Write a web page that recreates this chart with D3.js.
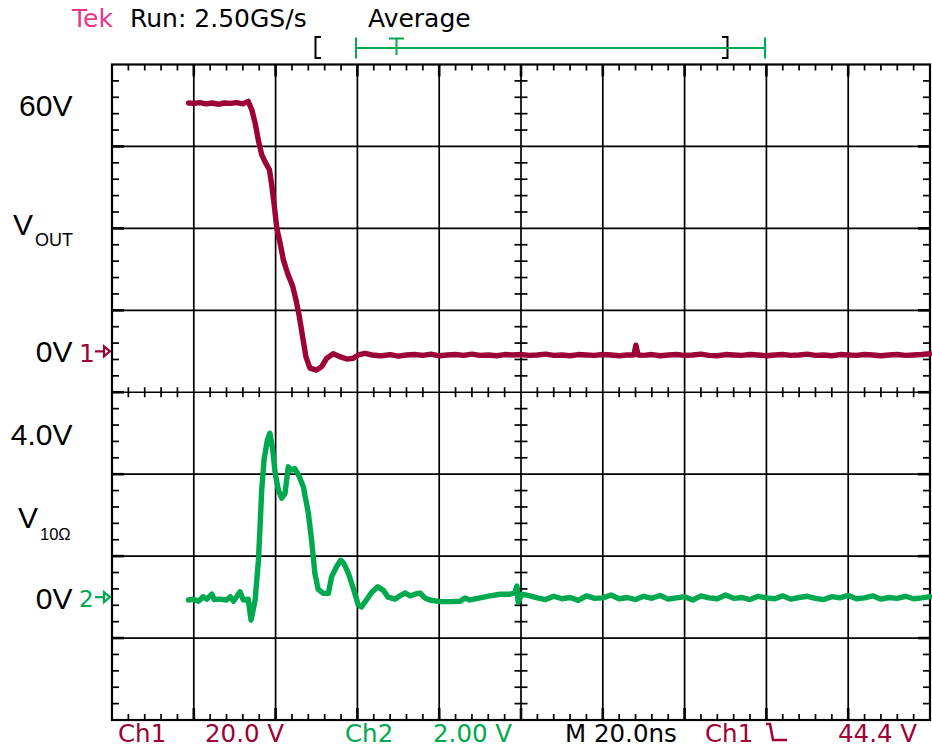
<!DOCTYPE html>
<html><head><meta charset="utf-8">
<script src="https://cdn.jsdelivr.net/npm/d3@7"></script>
<style>html,body{margin:0;padding:0;background:#fff;}svg{display:block;}</style>
</head><body>
<script>
// ---- data (time in ns from left edge of screen, volts) ----
const ch1Time = [18.7,20,21.5,23,24.5,26,27.5,29,30.5,32,33.3,34.2,35.0,35.8,36.6,37.4,38.5,39.0,39.6,40.3,41.1,41.9,42.9,44.2,45.0,45.8,46.6,47.4,48.4,50.0,51.3,52.5,54.1,55.7,57.4,59.0,60.2,61.9,63.5,65.5,
  66,68,70,72,74,76,78,80,82,84,86,88,90,92,94,96,98,100,102,104,106,108,110,112,114,116,118,120,122,124,126,127.6,128.1,128.6,130,132,134,136,138,140,142,144,146,148,150,152,154,156,158,160,162,164,166,168,170,172,174,176,178,180,182,184,186,188,190,192,194,196,198,200];
const ch1Volts = [60.6,60.5,60.7,60.4,60.6,60.3,60.6,60.5,60.7,60.4,61.0,58.9,55.7,51.4,48.0,46.3,44.3,41.0,36.2,30.0,26.4,22.3,19.1,15.8,12.5,8.5,3.6,-1.3,-4.1,-4.6,-3.7,-1.7,-0.6,-1.3,-1.9,-1.7,-0.9,-0.5,-0.9,-1.1,
  -1.1,-0.8,-1.2,-0.9,-0.8,-1.0,-0.7,-1.1,-0.9,-0.8,-1.0,-0.7,-1.0,-0.9,-1.1,-0.8,-0.9,-0.8,-1.0,-0.9,-0.7,-1.0,-0.9,-1.1,-0.8,-0.9,-1.0,-0.8,-0.9,-1.1,-0.9,-0.9,1.5,-0.9,-1.0,-0.8,-1.1,-0.9,-0.8,-1.0,-0.9,-0.7,-1.0,-1.1,-0.8,-0.9,-1.0,-0.8,-0.9,-1.1,-0.9,-0.8,-1.0,-0.9,-0.7,-1.0,-0.9,-1.1,-0.8,-0.9,-1.0,-0.8,-0.9,-1.1,-0.9,-0.8,-1.0,-0.9,-0.8,-0.6];

const ch2Time = [18.7,19.9,21.1,22.3,23.2,24.4,25.0,26.4,28.0,28.9,29.7,31.3,32.1,33.3,34.0,35.0,35.8,36.2,36.6,37.2,38.0,38.6,39.3,39.9,40.7,41.5,42.3,43.1,43.9,44.7,45.8,46.8,48.0,48.8,49.6,50.4,51.7,52.9,53.7,54.9,55.9,56.7,57.8,59.0,60.2,61.0,62.2,63.5,65.0,66.3,67.5,69.2,70.4,71.6,72.9,74.1,75.3,76.5,77.7,80.2,82.6,85.1,86.3,87.5,90.0,92.4,94.9,97.3,98.5,99.0,99.3,100.2,102.2,
  104,106,108,110,112,114,116,118,120,122,124,126,128,130,132,134,136,138,140,142,144,146,148,150,152,154,156,158,160,162,164,166,168,170,172,174,176,178,180,182,184,186,188,190,192,194,196,198,200];
const ch2Volts = [-0.07,-0.05,-0.10,0.01,-0.05,0.07,-0.06,-0.05,-0.07,0.01,-0.10,0.13,-0.07,-0.05,-0.56,-0.07,0.90,1.72,2.61,3.37,3.84,4.00,3.59,3.02,2.61,2.41,2.53,3.18,3.10,3.14,2.94,2.69,2.05,1.39,0.58,0.19,0.09,0.09,0.50,0.74,0.90,0.82,0.58,0.21,-0.19,-0.24,-0.07,0.12,0.25,0.17,0.00,-0.05,0.03,0.10,0.03,0.07,0.10,-0.02,-0.07,-0.11,-0.11,-0.10,-0.02,-0.07,-0.02,0.03,0.07,0.07,0.10,0.27,-0.12,0.07,0.03,
  -0.02,-0.06,0.02,-0.04,-0.01,-0.08,0.03,-0.03,-0.02,0.05,-0.04,-0.01,-0.06,0.02,-0.03,0.04,-0.05,-0.02,0.01,-0.07,0.03,-0.02,-0.04,0.05,-0.03,-0.01,-0.06,0.02,-0.02,-0.04,0.03,-0.05,-0.01,0.02,-0.03,-0.06,0.01,-0.02,0.04,-0.04,-0.02,0.03,-0.05,-0.01,-0.03,0.02,-0.04,-0.02,0.01];

const ch1Labels = ["60V", "0V"];
const ch1LabelVolts = [60, 0];
const ch2Labels = ["4.0V", "0V"];
const ch2LabelVolts = [4, 0];
const headerTexts = ["Tek", "Run: 2.50GS/s", "Average"];
const footerTexts = ["Ch1", "20.0 V", "Ch2", "2.00 V", "M 20.0ns", "Ch1", "44.4 V"];

// ---- drawing ----
const W = 932, H = 749;
const RED = "#9c0236", GREEN = "#00a84f", PINK = "#e8378b";
const svg = d3.select("body").append("svg").attr("width", W).attr("height", H);

const x = d3.scaleLinear().domain([0, 200]).range([112, 930]);
const gx = d3.scaleLinear().domain([0, 10]).range([112, 930]);
const gy = d3.scaleLinear().domain([0, 8]).range([64.5, 720]);
const y1 = d3.scaleLinear().domain([-90, 70]).range([720, 64.5]);
const y2 = d3.scaleLinear().domain([-3, 13]).range([720, 64.5]);

const grid = svg.append("g").attr("stroke", "#000");
d3.range(1, 10).forEach(i => grid.append("line").attr("x1", gx(i)).attr("x2", gx(i)).attr("y1", gy(0)).attr("y2", gy(8)).attr("stroke-width", 1.7));
d3.range(1, 8).forEach(j => grid.append("line").attr("y1", gy(j)).attr("y2", gy(j)).attr("x1", gx(0)).attr("x2", gx(10)).attr("stroke-width", 1.7));
d3.range(0, 51).filter(k => k % 5 !== 0).forEach(k => {
  const xx = gx(k / 5);
  grid.append("line").attr("x1", xx).attr("x2", xx).attr("y1", gy(0)).attr("y2", gy(0) + 6).attr("stroke-width", 1.7);
  grid.append("line").attr("x1", xx).attr("x2", xx).attr("y1", gy(8)).attr("y2", gy(8) - 6).attr("stroke-width", 1.7);
  grid.append("line").attr("x1", xx).attr("x2", xx).attr("y1", gy(4) - 5).attr("y2", gy(4) + 5).attr("stroke-width", 1.7);
});
d3.range(0, 41).filter(k => k % 5 !== 0).forEach(k => {
  const yy = gy(k / 5);
  grid.append("line").attr("y1", yy).attr("y2", yy).attr("x1", gx(0)).attr("x2", gx(0) + 7).attr("stroke-width", 1.7);
  grid.append("line").attr("y1", yy).attr("y2", yy).attr("x1", gx(10)).attr("x2", gx(10) - 7).attr("stroke-width", 1.7);
  grid.append("line").attr("y1", yy).attr("y2", yy).attr("x1", gx(5) - 6.5).attr("x2", gx(5) + 6.5).attr("stroke-width", 1.7);
});
d3.range(1, 8).forEach(j => {
  grid.append("line").attr("y1", gy(j)).attr("y2", gy(j)).attr("x1", gx(0)).attr("x2", gx(0) + 12).attr("stroke-width", 2.6);
  grid.append("line").attr("y1", gy(j)).attr("y2", gy(j)).attr("x1", gx(10)).attr("x2", gx(10) - 12).attr("stroke-width", 2.6);
});
d3.range(1, 10).forEach(i => {
  grid.append("line").attr("x1", gx(i)).attr("x2", gx(i)).attr("y1", gy(0)).attr("y2", gy(0) + 12).attr("stroke-width", 2.6);
  grid.append("line").attr("x1", gx(i)).attr("x2", gx(i)).attr("y1", gy(8)).attr("y2", gy(8) - 12).attr("stroke-width", 2.6);
});
grid.append("rect").attr("x", gx(0)).attr("y", gy(0)).attr("width", gx(10) - gx(0)).attr("height", gy(8) - gy(0)).attr("fill", "none").attr("stroke-width", 2.2);

// traces
const line1 = d3.line().x((d, i) => x(ch1Time[i])).y(d => y1(d));
const line2 = d3.line().x((d, i) => x(ch2Time[i])).y(d => y2(d));
svg.append("path").datum(ch1Volts).attr("d", line1).attr("fill", "none").attr("stroke", RED).attr("stroke-width", 5.4).attr("stroke-linejoin", "round").attr("stroke-linecap", "round");
svg.append("path").datum(ch2Volts).attr("d", line2).attr("fill", "none").attr("stroke", GREEN).attr("stroke-width", 5.4).attr("stroke-linejoin", "round").attr("stroke-linecap", "round");

// left labels
const lf = "'Liberation Sans', Arial, sans-serif";
ch1Labels.forEach((t, i) => svg.append("text").attr("x", 72.5).attr("y", y1(ch1LabelVolts[i]) + 11).attr("text-anchor", "end").attr("font-family", lf).attr("font-size", 30).attr("fill", "#000").text(t));
ch2Labels.forEach((t, i) => svg.append("text").attr("x", 72.5).attr("y", y2(ch2LabelVolts[i]) + 12).attr("text-anchor", "end").attr("font-family", lf).attr("font-size", 30).attr("fill", "#000").text(t));
const vo = svg.append("text").attr("x", 13).attr("y", 235).attr("font-family", lf).attr("font-size", 30).attr("fill", "#000");
vo.append("tspan").text("V");
vo.append("tspan").attr("x", 35).attr("y", 246).attr("font-size", 18).text("OUT");
const vr = svg.append("text").attr("x", 18).attr("y", 528).attr("font-family", lf).attr("font-size", 30).attr("fill", "#000");
vr.append("tspan").text("V");
vr.append("tspan").attr("x", 40).attr("y", 539.5).attr("font-size", 16.5).text("10Ω");

// channel markers
const tf = "'DejaVu Sans', sans-serif";
svg.append("text").attr("x", 79).attr("y", 361.5).attr("font-family", tf).attr("font-size", 25).attr("fill", RED).text("1");
svg.append("path").attr("d", `M95,${y1(0)} H104 M104,${y1(0) - 5} L110,${y1(0)} L104,${y1(0) + 5} Z`).attr("fill", "none").attr("stroke", RED).attr("stroke-width", 2.2);
svg.append("text").attr("x", 79).attr("y", 606.5).attr("font-family", tf).attr("font-size", 23).attr("fill", GREEN).text("2");
svg.append("path").attr("d", `M95,${y2(0)} H104 M104,${y2(0) - 5} L110,${y2(0)} L104,${y2(0) + 5} Z`).attr("fill", "none").attr("stroke", GREEN).attr("stroke-width", 2.2);

// header
svg.append("text").attr("x", 72).attr("y", 27.3).attr("font-family", tf).attr("font-size", 25).attr("fill", PINK).text(headerTexts[0]);
svg.append("text").attr("x", 130).attr("y", 27.3).attr("font-family", tf).attr("font-size", 25).attr("fill", "#000").text(headerTexts[1]);
svg.append("text").attr("x", 368).attr("y", 27.3).attr("font-family", tf).attr("font-size", 25).attr("fill", "#000").text(headerTexts[2]);
svg.append("path").attr("d", "M321,37 H315.5 V58 H321").attr("fill", "none").attr("stroke", "#000").attr("stroke-width", 2);
svg.append("path").attr("d", "M722,37 H727.5 V58 H722").attr("fill", "none").attr("stroke", "#000").attr("stroke-width", 2);
svg.append("path").attr("d", "M356,48 H765 M356,37.5 V58.5 M765,37.5 V58.5 M389,38.5 H404 M396.5,38.5 V55").attr("fill", "none").attr("stroke", GREEN).attr("stroke-width", 2);

// footer
const fy = 741.5;
const footerX = [118, 205, 345, 433, 565, 705, 838];
const footerC = [RED, RED, GREEN, GREEN, "#000", RED, RED];
footerTexts.forEach((t, i) => svg.append("text").attr("x", footerX[i]).attr("y", fy).attr("font-family", tf).attr("font-size", 24.5).attr("fill", footerC[i]).text(t));
svg.append("path").attr("d", "M766,724 H770 L773,740 H787").attr("fill", "none").attr("stroke", RED).attr("stroke-width", 2.5);
</script>
</body></html>
